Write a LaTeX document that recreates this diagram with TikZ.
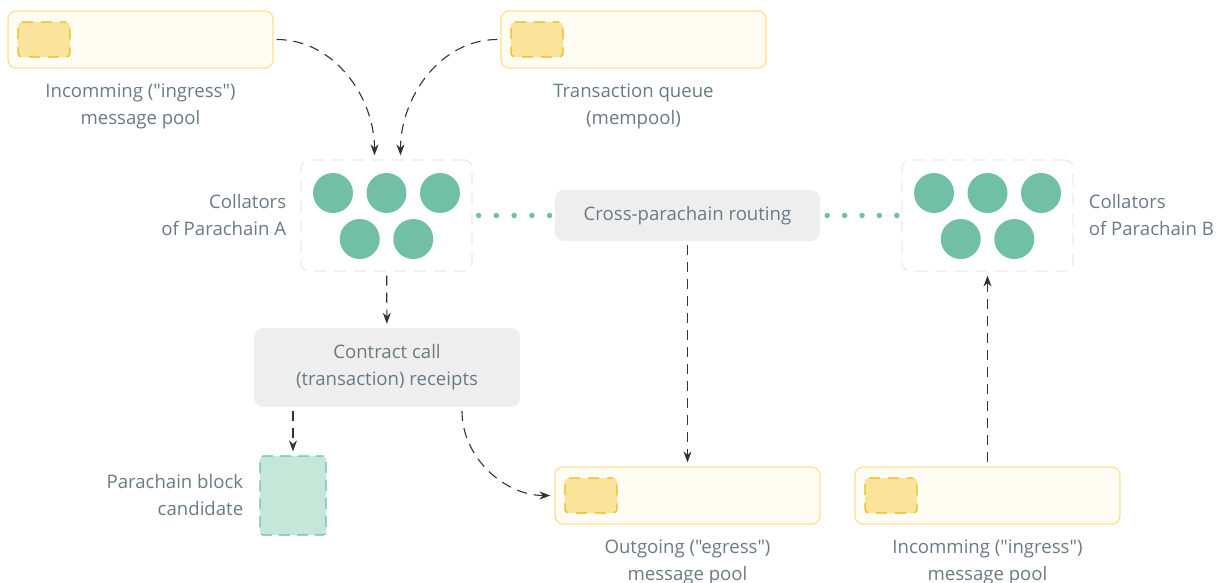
\documentclass[tikz,border=0pt]{standalone}
\usepackage{fontspec}
\setmainfont{Open Sans}[Ligatures=TeXOff]
\usepackage{tikz}
\usetikzlibrary{arrows.meta,positioning}
\definecolor{poolfill}{HTML}{FFFCF3}
\definecolor{pooldraw}{HTML}{FCE08E}
\definecolor{slotfill}{HTML}{FAE39B}
\definecolor{slotdraw}{HTML}{F0B90F}
\definecolor{collgreen}{HTML}{71C0A6}
\definecolor{candfill}{HTML}{C5E7DA}
\definecolor{canddraw}{HTML}{6DBE9F}
\definecolor{boxgray}{HTML}{EEEEEE}
\definecolor{framegray}{HTML}{E9E9E9}
\definecolor{labelgray}{HTML}{6A7A84}
\definecolor{arrowgray}{HTML}{333333}
\tikzset{
        lbl/.style = {inner sep=0pt, text=labelgray, font=\fontsize{18.6}{27}\selectfont},
        pool_box/.style = {rectangle, rounded corners=8pt, fill=poolfill, draw=pooldraw,
            line width=1.2pt, minimum width=265pt, minimum height=57pt, inner sep=0pt},
        pool_slot/.style = {rectangle, rounded corners=4pt, fill=slotfill, draw=slotdraw,
            line width=1.2pt, dash pattern=on 11pt off 8pt, dash phase=5pt,
            minimum width=52pt, minimum height=35pt, inner sep=0pt},
        coll_frame/.style = {rectangle, rounded corners=8pt, draw=framegray, line width=1.2pt,
            dash pattern=on 12pt off 8pt, minimum width=171pt, minimum height=111pt, inner sep=0pt},
        collator/.style = {circle, fill=collgreen, minimum size=40pt, inner sep=0pt},
        gray_box/.style = {lbl, rectangle, rounded corners=9pt, fill=boxgray, align=center},
        cand_box/.style = {rectangle, rounded corners=3pt, fill=candfill, draw=canddraw,
            line width=1.2pt, dash pattern=on 11pt off 7pt, dash phase=4pt,
            minimum width=66pt, minimum height=79pt, inner sep=0pt},
        flow/.style = {draw=arrowgray, line width=1.1pt, dash pattern=on 10pt off 7pt,
            -{Stealth[length=11pt,width=8pt]}, shorten <=4pt, shorten >=4pt},
        route/.style = {draw=collgreen, line width=5.5pt, line cap=round,
            dash pattern=on 0pt off #1},
        route/.default = 17.75pt
    }
\begin{document}
\begin{tikzpicture}[x=1pt,y=-1pt]
    \useasboundingbox (0,0) rectangle (1218,583);
    % message pools
    \node [pool_box] (inA) at (140.5,39.5) {};
    \node [pool_slot, right=10pt of inA.west] (inA_slot) {};
    \node [lbl, align=center, below=15pt of inA] (inA_lbl) {Incomming ("ingress")\\message pool};
    \node [pool_box] (mempool) at (633.5,39.5) {};
    \node [pool_slot, right=10pt of mempool.west] (mempool_slot) {};
    \node [lbl, align=center, below=15pt of mempool] (mempool_lbl) {Transaction queue\\(mempool)};
    \node [pool_box] (outA) at (687.5,495.5) {};
    \node [pool_slot, right=10pt of outA.west] (outA_slot) {};
    \node [lbl, align=center, below=15pt of outA] (outA_lbl) {Outgoing ("egress")\\message pool};
    \node [pool_box] (inB) at (987.5,495.5) {};
    \node [pool_slot, right=10pt of inB.west] (inB_slot) {};
    \node [lbl, align=center, below=15pt of inB] (inB_lbl) {Incomming ("ingress")\\message pool};
    % collators
    \node [coll_frame] (collA) at (386.5,215.5) {};
    \node [coll_frame] (collB) at (987.5,215.5) {};
    \foreach \dx/\dy [count=\i] in {-53.5/-22.5, 0/-22.5, 53.5/-22.5, -26.75/23.5, 26.75/23.5} {
        \node [collator] (collA_\i) at ([shift={(\dx,\dy)}]collA.center) {};
        \node [collator] (collB_\i) at ([shift={(\dx,\dy)}]collB.center) {};
    }
    \node [lbl, align=right, left=14pt of collA] (collA_lbl) {Collators\\of Parachain A};
    \node [lbl, align=left, right=15pt of collB] (collB_lbl) {Collators\\of Parachain B};
    % routing, receipts, candidate
    \node [gray_box, minimum width=265pt, minimum height=51pt] (routing) at (687.5,215.5) {Cross-parachain routing};
    \node [gray_box, minimum width=266pt, minimum height=79pt] (receipts) at (387,367.5) {Contract call\\(transaction) receipts};
    \node [cand_box] (cand) at (293,495.5) {};
    \node [lbl, align=right, left=16pt of cand] (cand_lbl) {Parachain block\\candidate};
    % connectors
    \draw [route, shorten <=6pt, shorten >=5pt] (collA) -- (routing);
    \draw [route=17.4pt, shorten <=7pt, shorten >=4.5pt] (routing) -- (collB);
    \draw [flow, shorten <=3pt] (inA.east) to [out=0, in=90] ([xshift=-12pt]collA.north);
    \draw [flow, shorten <=3pt] (mempool.west) to [out=180, in=90] ([xshift=14pt]collA.north);
    \draw [flow] (collA) -- (receipts);
    \draw [flow] (routing) -- (outA);
    \draw [flow] (inB) -- (collB);
    \draw [flow] (cand.north |- receipts.south) -- (cand.north);
    \draw [flow] ([xshift=75pt]receipts.south) to [out=-90, in=180] (outA.west);
\end{tikzpicture}
\end{document}
